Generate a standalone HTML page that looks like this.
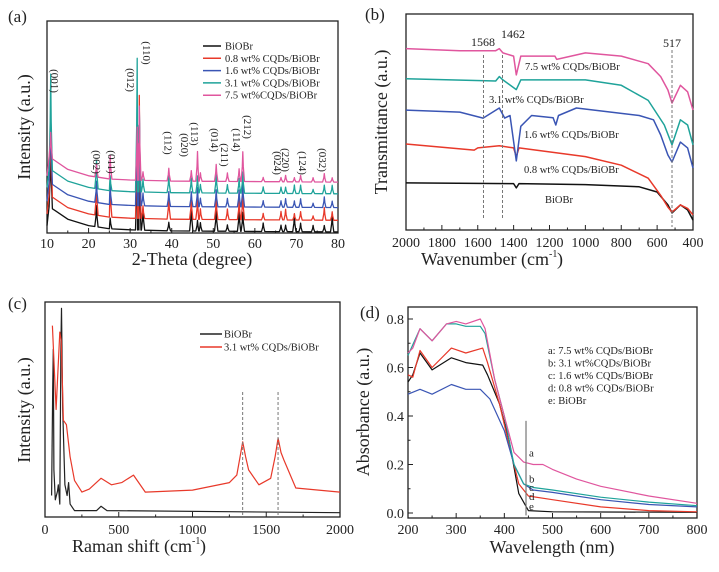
<!DOCTYPE html>
<html><head><meta charset="utf-8">
<style>
body{margin:0;background:#fff}
svg, svg text{font-family:"Liberation Serif","DejaVu Serif",serif}
</style></head>
<body>
<svg id="fig" width="719" height="567" viewBox="0 0 719 567" xmlns="http://www.w3.org/2000/svg" font-family="Liberation Serif, DejaVu Serif, serif"></svg>
<script>
// ---------- Panel (a) XRD data ----------
const xrdSeriesNames=["BiOBr","0.8 wt% CQDs/BiOBr","1.6 wt% CQDs/BiOBr","3.1 wt% CQDs/BiOBr","7.5 wt%CQDs/BiOBr"];
const xrdColors=["#111","#e8392a","#3a55b4","#1fa39a","#e0569e"];
const xrdOffsets=[0.5,6,12,18.5,24];
const xrdBgX=[10,10.5,12,15,20,25,30,40,80];
const xrdBgY=[3,12,10,6,3,1.5,1,0.5,0];
const xrdPeakPos=[10.9,21.9,25.2,31.7,32.2,33.1,39.3,44.7,46.2,46.9,50.7,53.4,56.2,57.1,62,66.3,67.4,69.5,71,74,76.7,78.6];
const xrdPeakH=[
 [30,10,5,40,35,10,4,12,5,4,10,3,10,9,4,3,3,8,4,3,3,8],
 [38,14,14,45,58,6,10,10,10,5,10,5,9,12,3,4,5,3,4,2,6,4],
 [35,10,9,50,45,6,7,7,9,4,8,4,8,11,3,3,4,3,4,2,5,3],
 [45,13,7,63,40,6,8,7,8,4,9,4,7,10,3,3,3,4,4,2,4,4],
 [12,6,11,25,35,4,6,5,14,4,8,4,6,14,2,2,3,2,3,2,4,2]];
const xrdLabels=["(001)","(002)","(011)","(012)","(110)","(112)","(020)","(113)","(014)","(211)","(114)","(212)","(024)","(220)","(124)","(032)"];
const xrdLabelX=[11.9,22,25.6,30.2,34,39.2,43.2,45.6,50.4,52.8,55.7,58.4,65.6,67.5,71.6,76.4];
const xrdLabelYpx=[81,162,162,80,53,143,145,134,140,155,140,127,163,160,163,160];

// ---------- Panel (b) FTIR data ----------
const ftNames=["BiOBr","0.8 wt% CQDs/BiOBr","1.6 wt% CQDs/BiOBr","3.1 wt% CQDs/BiOBr","7.5 wt% CQDs/BiOBr"];
const ftColors=["#111","#e8392a","#3a55b4","#1fa39a","#e0569e"];
const ftX=[
 [2000,1400,1385,1370,1000,700,600,540,517,470,430,400],
 [2000,1620,1600,1480,1400,1385,1370,1000,800,650,580,540,517,470,430,400],
 [2000,1700,1570,1480,1450,1420,1385,1360,1300,1180,1165,1150,1050,800,700,620,580,540,517,470,430,400],
 [2000,1500,1480,1460,1385,1360,1000,800,650,560,517,470,430,400],
 [2000,1700,1500,1480,1460,1400,1385,1360,1170,1160,1000,800,650,580,540,517,470,430,400]];
const ftY=[
 [21.8,21.5,19.5,21.5,21,20,17.6,11.6,7.9,11.6,9.3,4.6],
 [39.8,37,38,39,38,34,38,34,30,24,16,10.6,8.3,11.6,10,7],
 [55.5,54.6,51.8,56.5,51.8,53,32,48,53,52,48.6,53,56.5,54,53,51,44,34.7,31.5,40.7,38,28.7],
 [70,69,71,69.5,65,69.5,69.5,67,60,48.6,39.4,51,48.6,39.4],
 [84,83,83,84,82,80.5,71.8,80.5,80.5,79,82,80.5,77,71,64.8,58.8,67,64,55.5]];
const ftMarks=[1568,1462,517];

// ---------- Panel (c) Raman data ----------
const ramNames=["BiOBr","3.1 wt% CQDs/BiOBr"];
const ramColors=["#222","#e8392a"];
const ramX=[
 [45,52,56,60,70,85,90,100,108,112,120,135,150,160,170,200,350,380,420,2000],
 [50,75,100,110,125,145,170,200,250,300,380,450,520,600,680,1000,1250,1300,1320,1340,1360,1380,1450,1530,1560,1580,1600,1620,1700,2000]];
const ramY=[
 [10,60,78,22,8,12,15,6,80,97,50,15,10,16,6,3,3,5,3,2],
 [89,50,86,82,45,43,28,17,11.6,13,18,15,16,19.5,11.6,12.5,16,19.5,27,35,28,21.9,15,18,28,36.7,30,26.5,13.5,11.6]];
const ramMarks=[1340,1580];

// ---------- Panel (d) UV-vis data ----------
const uvNames=["a: 7.5 wt% CQDs/BiOBr","b: 3.1 wt%CQDs/BiOBr","c: 1.6 wt% CQDs/BiOBr","d: 0.8 wt% CQDs/BiOBr","e: BiOBr"];
const uvColors=["#e0569e","#1fa39a","#3a55b4","#e8392a","#111"];
const uvX=[
 [200,210,225,250,280,300,320,350,360,380,400,420,440,460,480,500,550,600,700,800],
 [200,225,250,280,300,320,350,360,380,400,420,440,460,500,600,700,800],
 [200,225,250,290,320,350,370,400,420,440,460,500,600,700,800],
 [200,210,225,250,290,320,355,365,390,410,430,450,500,600,700,800],
 [200,210,225,250,290,320,355,365,390,410,430,450,500,800]];
const uvY=[
 [0.66,0.68,0.76,0.71,0.78,0.79,0.78,0.80,0.76,0.55,0.40,0.25,0.21,0.20,0.20,0.18,0.14,0.11,0.07,0.04],
 [0.65,0.76,0.71,0.78,0.78,0.77,0.77,0.74,0.55,0.40,0.20,0.12,0.105,0.095,0.065,0.045,0.03],
 [0.49,0.51,0.49,0.53,0.51,0.51,0.47,0.34,0.20,0.12,0.095,0.085,0.055,0.035,0.025],
 [0.57,0.56,0.67,0.60,0.68,0.66,0.68,0.62,0.45,0.28,0.12,0.07,0.055,0.025,0.01,0.005],
 [0.54,0.57,0.66,0.59,0.64,0.62,0.61,0.57,0.45,0.30,0.08,0.01,0.005,0.003]];
const uvTickY=["0.0","0.2","0.4","0.6","0.8"];
const uvLetters=["a","b","c","d","e"];
const uvLetterY=[0.225,0.118,0.082,0.045,0.005];

const NS="http://www.w3.org/2000/svg";
const FONT="Liberation Serif, DejaVu Serif, serif";
const svg=document.getElementById('fig');
function E(tag,attrs,parent,text){const e=document.createElementNS(NS,tag);for(const k in attrs)e.setAttribute(k,attrs[k]);if(tag==='text')e.setAttribute('font-family',FONT);if(text!==undefined)e.textContent=text;(parent||svg).appendChild(e);return e;}
function scale(d0,d1,p0,p1){return v=>p0+(v-d0)*(p1-p0)/(d1-d0);}

function frame(name,L,T,R,B,xs,xMaj,xMin,xLabels,ys,yMaj,yMin,yLabels,tickY){
  const g=E('g',{});
  
  
  E('rect',{x:L,y:T,width:R-L,height:B-T,fill:'none',stroke:'#222','stroke-width':1.3},g);
  xMin.forEach(v=>{E('line',{x1:xs(v),x2:xs(v),y1:B,y2:B-2.5,stroke:'#222'},g);});
  xMaj.forEach((v,i)=>{E('line',{x1:xs(v),x2:xs(v),y1:B,y2:B-5,stroke:'#222'},g);
    const t=E('text',{x:xs(v),y:tickY,'font-size':14,'text-anchor':'middle',fill:'#222'},g,xLabels[i]);
    });
  if(ys){yMin.forEach(v=>E('line',{x1:L,x2:L+2.5,y1:ys(v),y2:ys(v),stroke:'#222'},g));
    yMaj.forEach((v,i)=>{E('line',{x1:L,x2:L+5,y1:ys(v),y2:ys(v),stroke:'#222'},g);
      const t=E('text',{x:L-4,y:ys(v)+5,'font-size':14,'text-anchor':'end',fill:'#222'},g,yLabels[i]);
      });}
  return g;
}
function poly(xsArr,ysArr,xs,ys,color,name,w){
  const p=E('polyline',{points:xsArr.map((x,i)=>xs(x).toFixed(1)+','+ys(ysArr[i]).toFixed(1)).join(' '),fill:'none',stroke:color,'stroke-width':w||1.3,'stroke-linejoin':'round'});
  return p;
}
function txt(x,y,s,size,extra,name){const t=E('text',Object.assign({x:x,y:y,'font-size':size,fill:'#222'},extra||{}),null,s);return t;}
function range(a,b,s){const r=[];for(let v=a;v<=b+1e-9;v+=s)r.push(+v.toFixed(4));return r;}

// ===== Panel a =====
(function(){
 const L=47,T=21,R=338,B=233;
 const xs=scale(10,80,L,R), ys=scale(0,100,B,T);
 const maj=range(10,80,10);
 frame('xrd',L,T,R,B,xs,maj,range(15,75,10),maj.map(String),null,null,null,null,248);
 function bg(x){for(let i=1;i<xrdBgX.length;i++)if(x<=xrdBgX[i]){const f=(x-xrdBgX[i-1])/(xrdBgX[i]-xrdBgX[i-1]);return xrdBgY[i-1]+f*(xrdBgY[i]-xrdBgY[i-1]);}return 0;}
 for(let s=0;s<5;s++){
   const px=[],py=[];
   const pts=[];
   xrdBgX.forEach(x=>pts.push([x,0]));
   xrdPeakPos.forEach((p,i)=>{pts.push([p-0.4,0]);pts.push([p-0.12,xrdPeakH[s][i]*0.5]);pts.push([p,xrdPeakH[s][i]]);pts.push([p+0.12,xrdPeakH[s][i]*0.5]);pts.push([p+0.4,0]);});
   pts.sort((a,b)=>a[0]-b[0]);
   pts.forEach(q=>{px.push(q[0]);py.push(bg(q[0])+q[1]+xrdOffsets[s]);});
   poly(px,py,xs,ys,xrdColors[s],'xrd-line-'+s,1.3);
 }
 xrdLabels.forEach((l,i)=>{txt(0,0,l,11,{transform:`translate(${xs(xrdLabelX[i])-4},${xrdLabelYpx[i]}) rotate(90)`,'text-anchor':'middle'},'peak-label');});
 xrdSeriesNames.forEach((n,i)=>{const y=46+i*12.3;
   const l=E('line',{x1:203,x2:221,y1:y,y2:y,stroke:xrdColors[i],'stroke-width':1.5});
   txt(225,y+3.5,n,10.5,{},'legend-entry');});
 txt(8,22,'(a)',17,{},'panel-label-a');
 txt(30,127,'Intensity (a.u.)',18,{transform:'rotate(-90 30 127)','text-anchor':'middle'},'y-axis-title');
 txt(192,265,'2-Theta (degree)',18,{'text-anchor':'middle'},'x-axis-title');
})();

// ===== Panel b =====
(function(){
 const L=406,T=14,R=693,B=230;
 const xs=scale(2000,400,L,R), ys=scale(0,100,B,T);
 const maj=range(400,2000,200);
 frame('ftir',L,T,R,B,xs,maj,range(500,1900,200),maj.map(String),null,null,null,null,247);
 for(let s=0;s<5;s++)poly(ftX[s],ftY[s],xs,ys,ftColors[s],'ftir-line-'+s,1.5);
 ftMarks.forEach((m,i)=>{const l=E('line',{x1:xs(m),x2:xs(m),y1:i==2?50:55,y2:i==2?227:218,stroke:'#777','stroke-dasharray':'3,2'});});
 txt(471,46,'1568',12,{},'marker-label');txt(501,38,'1462',12,{},'marker-label');txt(663,47,'517',12,{},'marker-label');
 const lx=[525,489,524,524,545], ly=[70,103,138,173,203];
 [4,3,2,1,0].forEach((s,i)=>txt(lx[i],ly[i],ftNames[s],10.5,{},'series-label'));
 txt(365,20,'(b)',17,{},'panel-label-b');
 txt(387,122,'Transmittance (a.u.)',18,{transform:'rotate(-90 387 122)','text-anchor':'middle'},'y-axis-title');
 txt(549,265,'Wavenumber (cm',18,{'text-anchor':'end'},'x-axis-title');
 txt(549,257,'-1',10,{},'x-axis-title-sup');txt(557,265,')',18,{},'x-axis-title-end');
})();

// ===== Panel c =====
(function(){
 const L=45,T=302,R=340,B=517;
 const xs=scale(0,2000,L,R), ys=scale(0,100,B,T);
 const maj=range(0,2000,500);
 frame('raman',L,T,R,B,xs,maj,range(250,1750,500),maj.map(String),null,null,null,null,534);
 for(let s=0;s<2;s++)poly(ramX[s],ramY[s],xs,ys,ramColors[s],'raman-line-'+s,1.2);
 ramMarks.forEach(m=>{const l=E('line',{x1:xs(m),x2:xs(m),y1:392,y2:517,stroke:'#777','stroke-dasharray':'3,2'});});
 ramNames.forEach((n,i)=>{const y=334+i*13;
   const l=E('line',{x1:200,x2:222,y1:y,y2:y,stroke:ramColors[i],'stroke-width':1.5});
   txt(224,y+3.5,n,10.5,{},'legend-entry');});
 txt(8,309,'(c)',17,{},'panel-label-c');
 txt(30,410,'Intensity (a.u.)',18,{transform:'rotate(-90 30 410)','text-anchor':'middle'},'y-axis-title');
 txt(192,552,'Raman shift (cm',18,{'text-anchor':'end'},'x-axis-title');
 txt(192,544,'-1',10,{},'x-axis-title-sup');txt(200,552,')',18,{},'x-axis-title-end');
})();

// ===== Panel d =====
(function(){
 const L=408,T=307,R=697,B=518;
 const xs=scale(200,800,L,R), ys=scale(0,0.8,513,319);
 const maj=range(200,800,100);
 frame('uv',L,T,R,B,xs,maj,range(250,750,100),maj.map(String),ys,range(0,0.8,0.2),range(0.1,0.7,0.2),uvTickY,534);
 for(let s=4;s>=0;s--)poly(uvX[s],uvY[s],xs,ys,uvColors[s],'uv-line-'+uvLetters[s],1.2);
 const l=E('line',{x1:xs(445),x2:xs(445),y1:ys(0.38),y2:ys(-0.01),stroke:'#777','stroke-width':1.2});
 uvLetters.forEach((c,i)=>txt(xs(445)+3,ys(uvLetterY[i])-2,c,11,{},'curve-letter'));
 uvNames.forEach((n,i)=>txt(548,354+i*12.5,n,10.5,{},'legend-entry'));
 txt(360,318,'(d)',17,{},'panel-label-d');
 txt(369,412,'Absorbance (a.u.)',18,{transform:'rotate(-90 369 412)','text-anchor':'middle'},'y-axis-title');
 txt(552,553,'Wavelength (nm)',18,{'text-anchor':'middle'},'x-axis-title');
})();
</script>
</body></html>
